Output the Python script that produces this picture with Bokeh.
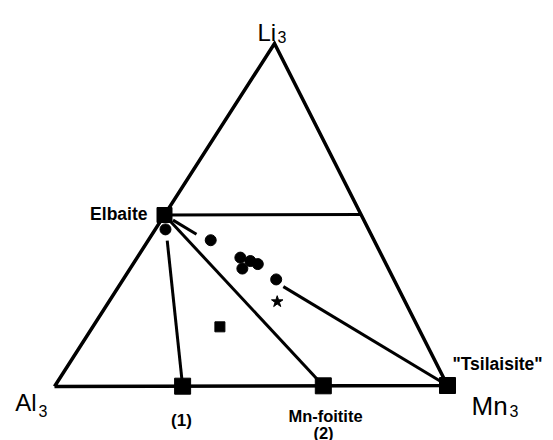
import numpy as np
from bokeh.plotting import figure
from bokeh.models import Range1d
from bokeh.core.properties import value
from bokeh.embed import file_html
from bokeh.resources import INLINE

# ---------------- data (ternary fractions: Al3, Li3, Mn3) ----------------
endmember_names = ["Elbaite", "(1)", "Mn-foitite", "Tsilaisite"]
endmember_al = [0.50, 0.674, 0.316, 0.0]
endmember_li = [0.50, 0.0, 0.0, 0.0]
endmember_mn = [0.0, 0.326, 0.684, 1.0]

# analysed samples (filled circles)
sample_li = [0.458, 0.426, 0.375, 0.365, 0.356, 0.343, 0.311]
sample_mn = [0.026, 0.159, 0.263, 0.294, 0.318, 0.286, 0.390]

# star sample
star_li = [0.246]
star_mn = [0.429]

# small square sample
sq_li = [0.173]
sq_mn = [0.324]

# mid-line end (Li 0.5, Mn 0.5)
mid_li = [0.5]
mid_mn = [0.5]

# ---------------- layout ----------------
W, H = 553, 440


def img(x, y):
    return np.array([float(x), float(H) - y])


V_AL = img(54, 386)
V_MN = img(447, 385)
V_LI = img(274, 43)


def tern(al, li, mn):
    al, li, mn = np.asarray(al, float), np.asarray(li, float), np.asarray(mn, float)
    x = al * V_AL[0] + li * V_LI[0] + mn * V_MN[0]
    y = al * V_AL[1] + li * V_LI[1] + mn * V_MN[1]
    return x, y


def comp(li, mn):
    li = np.asarray(li, float)
    mn = np.asarray(mn, float)
    return tern(1 - li - mn, li, mn)


p = figure(width=W, height=H, output_backend="svg", toolbar_location=None,
           x_range=Range1d(0, W), y_range=Range1d(0, H), min_border=0)
p.axis.visible = False
p.grid.visible = False
p.outline_line_color = None
p.background_fill_color = "white"
p.border_fill_color = "white"

# triangle
tx, ty = tern([1, 0, 0, 1], [0, 1, 0, 0], [0, 0, 1, 0])
p.line(list(tx), list(ty), line_color="black", line_width=3.5, line_join="miter")

ex, ey = tern(endmember_al, endmember_li, endmember_mn)
E = np.array([ex[0], ey[0]])


def seg(target, t0, t1):
    a = E + t0 * (target - E)
    b = E + t1 * (target - E)
    p.line([a[0], b[0]], [a[1], b[1]], line_color="black", line_width=3)


# tie lines from Elbaite
seg(np.array([ex[1], ey[1]]), 0.15, 1.0)
seg(np.array([ex[2], ey[2]]), 0.0, 1.0)
seg(np.array([ex[3], ey[3]]), 0.03, 0.113)
seg(np.array([ex[3], ey[3]]), 0.42, 1.0)
mx, my = comp(mid_li, mid_mn)
seg(np.array([mx[0], my[0]]), 0.0, 1.0)

# end members
p.scatter(ex, ey, marker="square", size=[15, 16, 16, 16], color="black")

# samples
sx, sy = comp(sample_li, sample_mn)
p.scatter(sx, sy, marker="circle", size=11, color="black")
stx, sty = comp(star_li, star_mn)
p.scatter(stx, sty, marker="star", size=12, color="black")
qx, qy = comp(sq_li, sq_mn)
p.scatter(qx, qy, marker="square", size=10, color="black")

FONT = value("Liberation Sans")


def txt(x, y, s, size, align="left", bold=False, baseline="alphabetic"):
    p.text([x], [y], text=[s], text_font=FONT, text_font_size=f"{size}px",
           text_align=align, text_baseline=baseline,
           text_font_style="bold" if bold else "normal", text_color="black")


# corner labels with subscripts
x, y = img(257, 32); txt(x, y, "Li", 24)
x, y = img(277, 36); txt(x, y, "3", 16)
x, y = img(36, 402); txt(x, y, "Al", 24, align="right")
x, y = img(38, 410); txt(x, y, "3", 16)
x, y = img(471, 405); txt(x, y, "Mn", 26)
x, y = img(509, 410); txt(x, y, "3", 16)

# end-member labels
x, y = img(147, 213); txt(x, y, endmember_names[0], 17.5, align="right", bold=True)
x, y = img(181, 420); txt(x, y, endmember_names[1], 17, align="center", bold=True)
x, y = img(325, 415); txt(x, y, endmember_names[2], 16.5, align="center", bold=True)
x, y = img(323, 432), txt(x, y, "(2)", 16.5, align="center", bold=True) if False else None
x, y = img(323, 432); txt(x, y, "(2)", 16.5, align="center", bold=True)
x, y = img(497, 363); txt(x, y, '"' + endmember_names[3] + '"', 17.5, align="center", bold=True)

open("out.html", "w").write(file_html(p, INLINE))
